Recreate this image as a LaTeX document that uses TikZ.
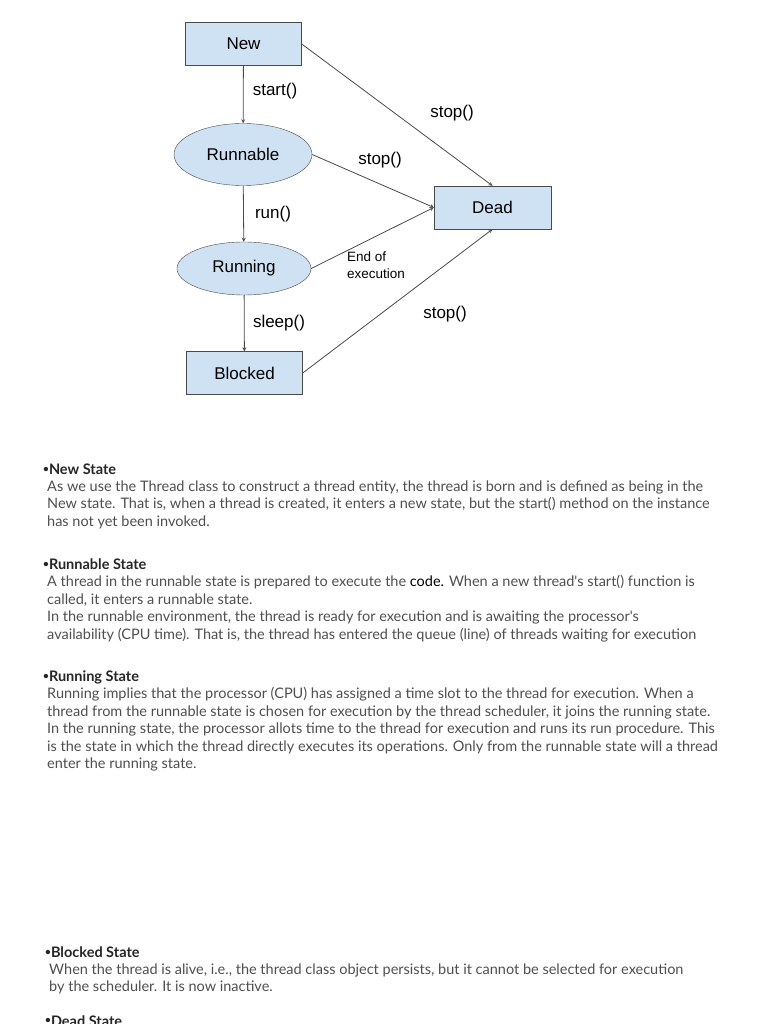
\documentclass[tikz,border=0pt]{standalone}
\usepackage{fontspec}
\setmainfont{Liberation Sans}
\newfontfamily\bodyfont{Lato}
\usetikzlibrary{shapes,arrows,positioning}
\definecolor{boxblue}{HTML}{CFE2F3}
\definecolor{linegray}{HTML}{4A4A4A}
\definecolor{headgray}{HTML}{262626}
\definecolor{bodygray}{HTML}{4F4F4F}
\newcommand{\notebullet}{\raisebox{2.5pt}{\fontsize{10}{10}\selectfont•}}

\begin{document}
\begin{tikzpicture}[
    x=1pt, y=-1pt,
    state/.style={draw=linegray, fill=boxblue, rectangle, inner sep=0pt,
                  minimum width=116pt, minimum height=43pt,
                  font=\fontsize{17}{20}\selectfont},
    oval/.style={state, ellipse},
    lbl/.style={inner sep=0pt, font=\fontsize{17}{20}\selectfont},
    arrow/.style={->, >=stealth, draw=linegray, line width=0.8pt},
    heading/.style={anchor=base west, inner sep=0pt, text=headgray,
                    font=\bodyfont\bfseries\fontsize{14.5}{17}\selectfont},
    para/.style={anchor=north west, inner sep=0pt, align=left, text=bodygray,
                 font=\bodyfont\fontsize{14.5}{17.4}\selectfont}
]
    \fill[white] (0,0) rectangle (768,1024);
    \useasboundingbox (0,0) rectangle (768,1024);
    \clip (0,0) rectangle (768,1024);

    % states
    \node[state] (new) at (243.5,44) {New};
    \node[oval, minimum width=138pt, minimum height=62pt] (runnable) at (243,154.5) {Runnable};
    \node[oval, minimum width=134pt, minimum height=53pt] (running) at (244,268.5) {Running};
    \node[state] (blocked) at (244.5,373) {Blocked};
    \node[state, minimum width=117pt] (dead) at (492.5,207.5) {Dead};

    % transitions
    \draw[arrow] (new) -- (runnable);
    \draw[arrow] (runnable) -- (running);
    \draw[arrow] (running) -- (blocked);
    \draw[arrow] (new.east) -- (dead.north);
    \draw[arrow] (runnable.east) -- (dead.west);
    \draw[arrow] (running.east) -- (dead.west);
    \draw[arrow] (blocked.east) -- (dead.south);

    \node[lbl] (startlbl) at (275,91) {start()};
    \node[lbl] (runlbl) at (273,214) {run()};
    \node[lbl] (sleeplbl) at (279,323) {sleep()};
    \node[lbl] (stopnew) at (452,113) {stop()};
    \node[lbl] (stoprunnable) at (380,160) {stop()};
    \node[lbl] (stopblocked) at (445,314) {stop()};
    \node[lbl, anchor=west, align=left, font=\fontsize{13.5}{17}\selectfont]
        (endlbl) at (347,265.5) {End of\\execution};

    % notes
    \node[heading] (newhead) at (43,474.5) {\notebullet New State};
    \node[para] (newtext) at (47,480.5) {As we use the Thread class to construct a thread entity, the thread is born and is defined as being in the\\
New state. That is, when a thread is created, it enters a new state, but the start() method on the instance\\
has not yet been invoked.};

    \node[heading] (runnablehead) at (43,569.5) {\notebullet Runnable State};
    \node[para] (runnabletext) at (47,575.5) {A thread in the runnable state is prepared to execute the \textcolor{black}{code.} When a new thread's start() function is\\
called, it enters a runnable state.\\
In the runnable environment, the thread is ready for execution and is awaiting the processor's\\
availability (CPU time). That is, the thread has entered the queue (line) of threads waiting for execution};

    \node[heading] (runninghead) at (43,681.5) {\notebullet Running State};
    \node[para] (runningtext) at (47,687.5) {Running implies that the processor (CPU) has assigned a time slot to the thread for execution. When a\\
thread from the runnable state is chosen for execution by the thread scheduler, it joins the running state.\\
In the running state, the processor allots time to the thread for execution and runs its run procedure. This\\
is the state in which the thread directly executes its operations. Only from the runnable state will a thread\\
enter the running state.};

    \node[heading] (blockedhead) at (45,957.5) {\notebullet Blocked State};
    \node[para] (blockedtext) at (49,963.5) {When the thread is alive, i.e., the thread class object persists, but it cannot be selected for execution\\
by the scheduler. It is now inactive.};

    \node[heading] (deadhead) at (45,1026) {\notebullet Dead State};
\end{tikzpicture}
\end{document}
